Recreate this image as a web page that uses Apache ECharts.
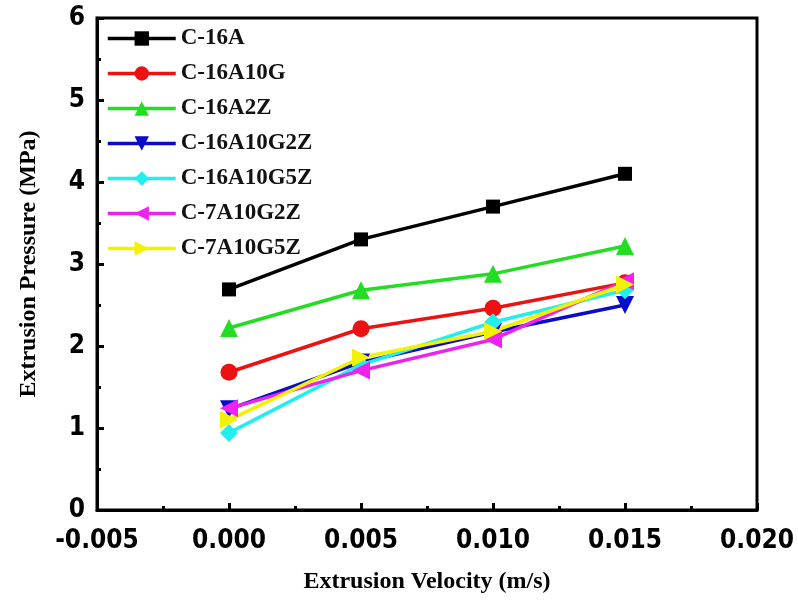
<!DOCTYPE html>
<html>
<head>
<meta charset="utf-8">
<script src="https://cdn.jsdelivr.net/npm/echarts@6/dist/echarts.min.js"></script>
<style>html,body{margin:0;padding:0;background:#fff}#c{width:798px;height:603px}</style>
</head>
<body>
<div id="c"></div>
<script>
const velocity = [0.000, 0.005, 0.010, 0.015];
const seriesNames = ['C-16A', 'C-16A10G', 'C-16A2Z', 'C-16A10G2Z', 'C-16A10G5Z', 'C-7A10G2Z', 'C-7A10G5Z'];
const c16A = [2.69, 3.30, 3.70, 4.10];
const c16A10G = [1.68, 2.21, 2.46, 2.77];
const c16A2Z = [2.22, 2.68, 2.88, 3.22];
const c16A10G2Z = [1.23, 1.80, 2.17, 2.50];
const c16A10G5Z = [0.94, 1.77, 2.29, 2.68];
const c7A10G2Z = [1.24, 1.70, 2.08, 2.79];
const c7A10G5Z = [1.10, 1.86, 2.18, 2.75];
const xTicks = [-0.005, 0.000, 0.005, 0.010, 0.015, 0.020];
const yTicks = [0, 1, 2, 3, 4, 5, 6];

const values = [c16A, c16A10G, c16A2Z, c16A10G2Z, c16A10G5Z, c7A10G2Z, c7A10G5Z];
const colors = ['#000000', '#ee1111', '#22dd22', '#0a0acc', '#22eeee', '#ee22ee', '#f2f200'];
const symbols = ['rect', 'circle', 'triangle', 'triangle', 'diamond', 'triangle', 'triangle'];
const rotates = [0, 0, 0, 180, 0, 90, -90];
const sizes = [14, 17, 18, 18, 18, 18, 18];

const chart = echarts.init(document.getElementById('c'), null, {renderer: 'canvas'});
const tickFont = {fontFamily: '"Liberation Sans Narrow", "DejaVu Sans Condensed", "Liberation Sans", sans-serif', fontWeight: 'bold', fontSize: 26, color: '#000'};
const titleFont = {fontFamily: '"Liberation Serif", "Times New Roman", serif', fontWeight: 'bold', fontSize: 24, color: '#000'};

chart.setOption({
  animation: false,
  backgroundColor: '#fff',
  grid: {left: 97, right: 41, top: 18, bottom: 93, show: true, borderColor: '#000', borderWidth: 3},
  legend: {
    orient: 'vertical', left: 101, top: 22,
    itemWidth: 68, itemHeight: 18, itemGap: 12,
    lineStyle: {width: 3.5},
    textStyle: {fontFamily: '"Liberation Serif", "Times New Roman", serif', fontWeight: 'bold', fontSize: 23, color: '#111'},
    data: seriesNames
  },
  xAxis: {
    type: 'value', min: xTicks[0], max: xTicks[xTicks.length - 1], interval: 0.005,
    name: 'Extrusion Velocity (m/s)', nameLocation: 'middle', nameGap: 60, nameTextStyle: titleFont,
    axisLine: {show: true, onZero: false, lineStyle: {color: '#000', width: 3}},
    axisTick: {show: true, inside: true, length: 7, lineStyle: {color: '#000', width: 3}},
    minorTick: {show: true, splitNumber: 2, length: 4, lineStyle: {color: '#000', width: 3}},
    splitLine: {show: false},
    axisLabel: Object.assign({margin: 18, formatter: v => v.toFixed(3)}, tickFont)
  },
  yAxis: {
    type: 'value', min: yTicks[0], max: yTicks[yTicks.length - 1], interval: 1,
    name: 'Extrusion Pressure (MPa)', nameLocation: 'middle', nameGap: 56, nameTextStyle: titleFont,
    axisLine: {show: true, onZero: false, lineStyle: {color: '#000', width: 3}},
    axisTick: {show: true, inside: true, length: 7, lineStyle: {color: '#000', width: 3}},
    minorTick: {show: true, splitNumber: 2, length: 4, lineStyle: {color: '#000', width: 3}},
    splitLine: {show: false},
    axisLabel: Object.assign({margin: 12}, tickFont)
  },
  series: seriesNames.map((name, i) => ({
    name: name,
    type: 'line',
    data: velocity.map((x, j) => [x, values[i][j]]),
    symbol: symbols[i],
    symbolRotate: rotates[i],
    symbolSize: sizes[i],
    showAllSymbol: true,
    lineStyle: {color: colors[i], width: 3.5},
    itemStyle: {color: colors[i], borderWidth: 0}
  }))
});
</script>
</body>
</html>
